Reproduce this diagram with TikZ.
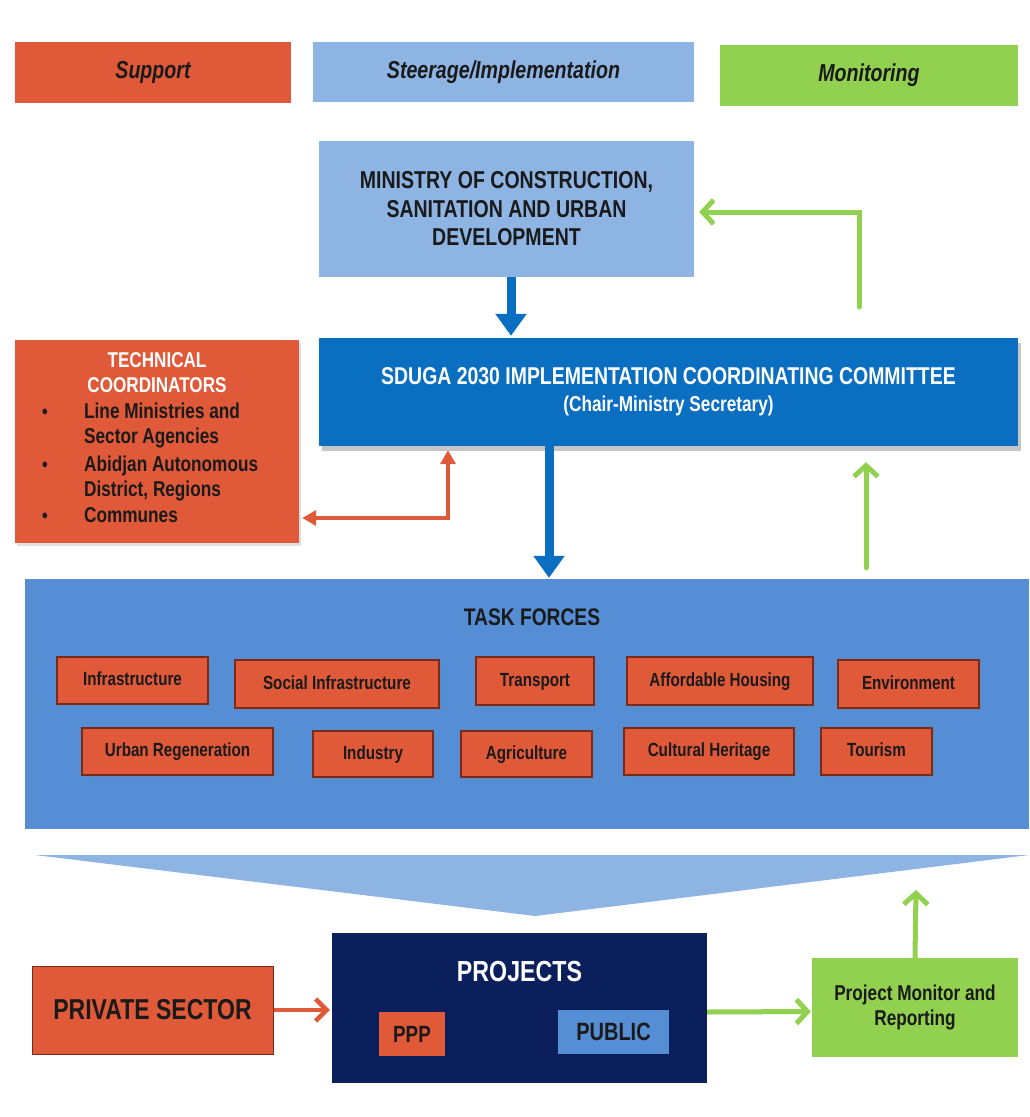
\documentclass[tikz,border=0pt]{standalone}
\usepackage{fontspec}
\setmainfont{Liberation Sans}[FakeStretch=0.8]
\usetikzlibrary{arrows.meta,shadows}

\definecolor{supportred}{HTML}{E05A3A}
\definecolor{steerblue}{HTML}{8EB4E3}
\definecolor{monitgreen}{HTML}{92D050}
\definecolor{comblue}{HTML}{0A6FC1}
\definecolor{taskblue}{HTML}{558ED5}
\definecolor{projnavy}{HTML}{0B1F5C}
\definecolor{inkdark}{HTML}{1A1A1A}
\definecolor{tfborder}{HTML}{7A2A18}

\newcommand{\fsz}[2]{\fontsize{#1}{#2}\selectfont\bfseries}

\begin{document}
\begin{tikzpicture}[x=1pt,y=-1pt,
  box/.style={rectangle, inner sep=0pt, align=center, text=inkdark},
  header/.style={box, font=\fsz{24.5}{28}\itshape},
  tfbox/.style={box, fill=supportred, draw=tfborder, line width=1.2pt,
    font=\fsz{19}{22}, text height=13.5pt, text depth=3.5pt,
    drop shadow={opacity=0.3, shadow xshift=1.5pt, shadow yshift=-2pt}},
  bluearrow/.style={draw=comblue, line width=9pt, -{Triangle[length=22pt,width=30pt]}},
  greenarrow/.style={draw=monitgreen, line width=5pt, line cap=round,
    -{Straight Barb[length=11pt,width=24pt]}},
  orangearrow/.style={draw=supportred, line width=4.5pt,
    -{Straight Barb[length=11pt,width=22pt]}},
  redlink/.style={draw=supportred, line width=3.5pt,
    {Triangle[length=14pt,width=15pt]}-{Triangle[length=14pt,width=15pt]}},
  itemtext/.style={anchor=base west, inner sep=0pt, font=\fsz{21.5}{25}, text=inkdark},
  bullet/.style={anchor=base, inner sep=0pt, font=\fsz{20}{25}, text=inkdark}
]
\useasboundingbox[fill=white] (0,0) rectangle (1029,1117);

% --- legend row ---
\node[header, fill=supportred, minimum width=276pt, minimum height=61pt] (support) at (153,72.5) {Support};
\node[header, fill=steerblue, minimum width=381pt, minimum height=60pt] (steer) at (503.5,72) {Steerage/Implementation};
\node[header, fill=monitgreen, minimum width=298pt, minimum height=61pt] (monit) at (869,75.5) {Monitoring};

% --- ministry ---
\node[box, fill=steerblue, minimum width=375pt, minimum height=136pt, font=\fsz{24.4}{28.5}] (ministry) at (506.5,209)
  {MINISTRY OF CONSTRUCTION,\\SANITATION AND URBAN\\DEVELOPMENT};

% --- coordinating committee ---
\node[box, fill=comblue, text=white, minimum width=699pt, minimum height=108pt, font=\fsz{24.3}{27},
  drop shadow={opacity=0.45, shadow xshift=3pt, shadow yshift=-5pt}] (sduga) at (668.5,392)
  {SDUGA 2030 IMPLEMENTATION COORDINATING COMMITTEE\\
   \fontsize{21.5}{27}\selectfont (Chair-Ministry Secretary)};

% --- technical coordinators ---
\node[box, fill=supportred, minimum width=284pt, minimum height=203pt,
  drop shadow={opacity=0.25, shadow xshift=2pt, shadow yshift=-3pt}] (tech) at (157,441.5) {};
\node[box, text=white, font=\fsz{21.4}{25}] (techtitle) at (157,372.5) {TECHNICAL\\COORDINATORS};
\node[bullet] (b1) at (45,418) {•};
\node[bullet] (b2) at (45,471) {•};
\node[bullet] (b3) at (45,522) {•};
\node[itemtext] (i1a) at (84,418.5) {Line Ministries and};
\node[itemtext] (i1b) at (84,443.5) {Sector Agencies};
\node[itemtext] (i2a) at (84,471.5) {Abidjan Autonomous};
\node[itemtext] (i2b) at (84,496.5) {District, Regions};
\node[itemtext] (i3a) at (84,522.5) {Communes};

% --- task forces ---
\node[box, fill=taskblue, minimum width=1004pt, minimum height=250pt] (task) at (527,704) {};
\node[box, font=\fsz{24}{28}] (tasktitle) at (532,617) {TASK FORCES};

\node[tfbox, minimum width=151pt, minimum height=47pt] (tf1) at (132.5,680.5) {Infrastructure};
\node[tfbox, minimum width=204pt, minimum height=48pt] (tf2) at (337,684) {Social Infrastructure};
\node[tfbox, minimum width=118pt, minimum height=48pt] (tf3) at (535,681) {Transport};
\node[tfbox, minimum width=186pt, minimum height=48pt] (tf4) at (720,681) {Affordable Housing};
\node[tfbox, minimum width=141pt, minimum height=48pt] (tf5) at (908.5,684) {Environment};
\node[tfbox, minimum width=191pt, minimum height=47pt] (tf6) at (177.5,751.5) {Urban Regeneration};
\node[tfbox, minimum width=120pt, minimum height=46pt] (tf7) at (373,754) {Industry};
\node[tfbox, minimum width=131pt, minimum height=46pt] (tf8) at (526.5,754) {Agriculture};
\node[tfbox, minimum width=170pt, minimum height=47pt] (tf9) at (709,751.5) {Cultural Heritage};
\node[tfbox, minimum width=111pt, minimum height=47pt] (tf10) at (876.5,751.5) {Tourism};

% --- funnel towards projects ---
\fill[steerblue] (35,855) -- (1029,855) -- (535,916) -- cycle;

% --- projects row ---
\node[box, fill=projnavy, minimum width=375pt, minimum height=150pt] (projects) at (519.5,1008) {};
\node[box, text=white, font=\fsz{29}{32}] (projtitle) at (519.5,972) {PROJECTS};
\node[box, fill=supportred, minimum width=66pt, minimum height=44pt, font=\fsz{23.5}{26}] (ppp) at (412,1034) {PPP};
\node[box, fill=taskblue, minimum width=111pt, minimum height=44pt, font=\fsz{25}{28}] (public) at (613.5,1032) {PUBLIC};

\node[box, fill=supportred, draw=tfborder, line width=1pt, minimum width=241pt, minimum height=88pt,
  font=\fsz{28.8}{32}] (private) at (152.5,1010) {PRIVATE SECTOR};
\node[box, fill=monitgreen, minimum width=206pt, minimum height=99pt, font=\fsz{21.5}{25}] (monitor) at (915,1007.5)
  {Project Monitor and\\Reporting};

% --- connectors ---
\draw[bluearrow, shorten >=2pt] ([xshift=4.5pt]ministry.south) -- ([xshift=4.5pt]ministry.south |- sduga.north);
\draw[bluearrow, shorten >=1pt] ([xshift=-119.5pt]sduga.south) -- ([xshift=-119.5pt]sduga.south |- task.north);
\draw[redlink, shorten >=4pt, shorten <=3pt] ([yshift=-76.5pt]tech.east) -| ([xshift=-220.5pt]sduga.south);

\coordinate (gstart) at (859,307);
\draw[greenarrow, shorten >=5pt] (gstart) |- ([yshift=-3pt]ministry.east);
\draw[greenarrow, shorten <=11pt, shorten >=16pt] ([xshift=339pt]task.north) -- ([xshift=197.5pt]sduga.south);

\draw[orangearrow, shorten >=2pt] (private.east) -- (private.east -| projects.west);
\draw[greenarrow, line cap=butt, shorten >=1pt] ([yshift=-4pt]projects.east) -- ([yshift=-4pt]monitor.west);
\coordinate (mtop) at (916,890);
\draw[greenarrow, line cap=butt] (monitor.north) -- (mtop);
\end{tikzpicture}
\end{document}
